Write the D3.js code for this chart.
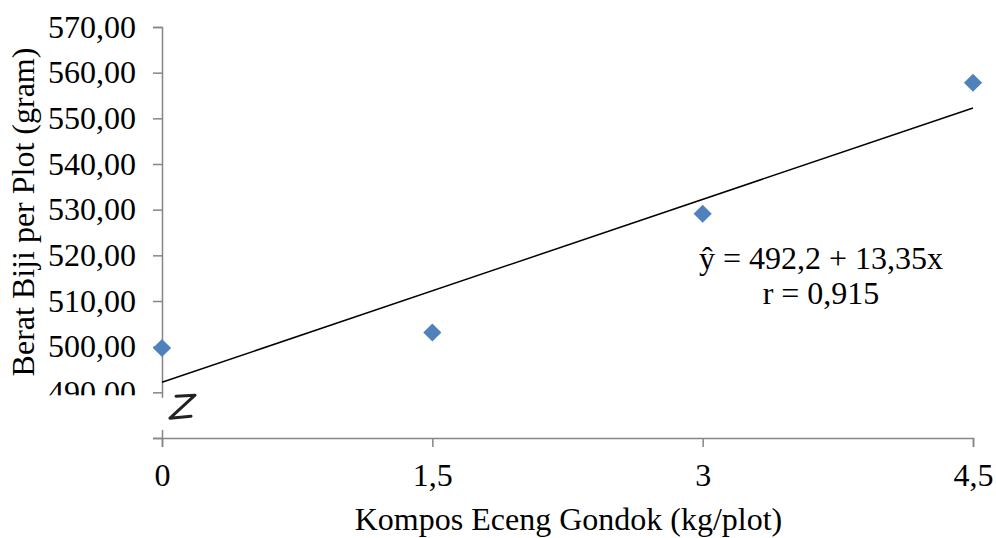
<!DOCTYPE html>
<html>
<head>
<meta charset="utf-8">
<script src="https://cdn.jsdelivr.net/npm/d3@7"></script>
<style>
  body { margin: 0; background: #fff; }
  svg text { font-family: "Liberation Serif", "Times New Roman", serif; fill: #000; }
</style>
</head>
<body>
<div id="chart"></div>
<script>
// Data
const dosis = [0, 1.5, 3, 4.5];
const berat = [499.7, 503.1, 529.1, 557.8];
const yTicks = [480, 490, 500, 510, 520, 530, 540, 550, 560, 570];
const xTickLabels = ['0', '1,5', '3', '4,5'];
const intercept = 492.2;
const slope = 13.35;
const eqLines = ['ŷ = 492,2 + 13,35x', 'r = 0,915'];

const W = 996, H = 538;
const margin = {top: 27, right: 23, bottom: 100, left: 162};
const axisColor = '#868686';
const fs = 32;

const svg = d3.select('#chart').append('svg')
  .attr('width', W).attr('height', H);

const x = d3.scaleLinear().domain([0, 4.5]).range([margin.left, W - margin.right]);
const y = d3.scaleLinear().domain([480, 570]).range([H - margin.bottom, margin.top]);

// Y axis
const yAxis = svg.append('g')
  .attr('transform', `translate(${margin.left},0)`)
  .call(d3.axisLeft(y).tickValues(yTicks).tickSize(9).tickPadding(17)
    .tickFormat(d => d === 480 ? '' : d3.format('.2f')(d).replace('.', ',')));
yAxis.select('.domain').attr('stroke', axisColor).attr('stroke-width', 1.5);
yAxis.selectAll('.tick line').attr('stroke', axisColor).attr('stroke-width', 1.5);
yAxis.selectAll('.tick text').attr('font-size', fs).attr('font-family', '"Liberation Serif", serif')
  .attr('fill', '#000');

// lower half of the 490 label is hidden behind the break
svg.append('rect')
  .attr('x', 40).attr('y', y(490) + 3).attr('width', margin.left - 50).attr('height', 22)
  .attr('fill', '#fff');

// X axis
const xAxis = svg.append('g')
  .attr('transform', `translate(0,${y(480)})`)
  .call(d3.axisBottom(x).tickValues(dosis).tickSize(9).tickPadding(16)
    .tickFormat((d, i) => xTickLabels[i]));
xAxis.select('.domain').attr('stroke', axisColor).attr('stroke-width', 1.5);
xAxis.selectAll('.tick line').attr('stroke', axisColor).attr('stroke-width', 1.5);
xAxis.selectAll('.tick text').attr('font-size', fs).attr('font-family', '"Liberation Serif", serif').attr('fill', '#000');

// axis break marker
const bx = margin.left, by = (y(490) + y(480)) / 2;
svg.append('rect')
  .attr('x', bx - 12).attr('y', by - 16).attr('width', 34).attr('height', 30)
  .attr('fill', '#fff')
  .attr('transform', `rotate(-20,${bx},${by})`);
svg.append('path')
  .attr('d', `M${bx + 14},${by - 19} L${bx + 33},${by - 20} L${bx + 8},${by + 3} L${bx + 29},${by + 1}`)
  .attr('fill', 'none').attr('stroke', '#222').attr('stroke-width', 3)
  .attr('stroke-linejoin', 'round').attr('stroke-linecap', 'round')
  .style('filter', 'blur(0.5px)');

// regression line
svg.append('line')
  .attr('x1', x(0)).attr('y1', y(intercept))
  .attr('x2', x(4.5)).attr('y2', y(intercept + slope * 4.5))
  .attr('stroke', '#000').attr('stroke-width', 1.5);

// points
svg.selectAll('.pt')
  .data(dosis.map((d, i) => ({x: d, y: berat[i]})))
  .enter().append('path')
  .attr('class', 'pt')
  .attr('d', d3.symbol().type(d3.symbolDiamond2).size(210))
  .attr('transform', d => `translate(${x(d.x)},${y(d.y)})`)
  .attr('fill', '#4F81BD');

// equation
const eq = svg.append('text').attr('text-anchor', 'middle').attr('font-size', fs);
eqLines.forEach((t, i) => {
  eq.append('tspan').attr('x', 821).attr('y', 269 + i * 35).text(t);
});

// axis titles
svg.append('text')
  .attr('x', (x(0) + x(4.5)) / 2 + 1).attr('y', 530)
  .attr('text-anchor', 'middle').attr('font-size', fs)
  .text('Kompos Eceng Gondok (kg/plot)');

svg.append('text')
  .attr('transform', `translate(34,212) rotate(-90)`)
  .attr('text-anchor', 'middle').attr('font-size', fs)
  .text('Berat Biji per Plot (gram)');
</script>
</body>
</html>
